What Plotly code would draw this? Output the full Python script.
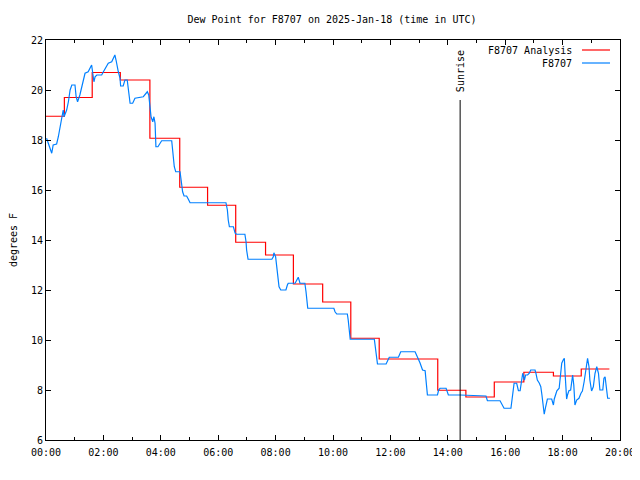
import pandas as pd
import plotly.graph_objects as go

DATE = "2025-01-18"
SUNRISE_H = 14.43
SUNRISE_TOP = 19.6

# Analysis (step) series: hour of change, value
ana_h = [0.00, 0.64, 1.61, 2.59, 3.62, 4.66, 5.63, 6.61, 7.65, 8.62, 9.64,
         10.62, 11.61, 13.65, 14.63, 15.62, 16.65, 17.68, 18.65, 19.63]
ana_v = [18.95, 19.70, 20.70, 20.40, 18.07, 16.11, 15.39, 13.91, 13.40, 12.24, 11.52,
         10.07, 9.24, 7.99, 7.72, 8.32, 8.71, 8.56, 8.84, 8.84]

# Observed series
obs_h = [0.02, 0.20, 0.25, 0.37, 0.43, 0.49, 0.55, 0.60, 0.63, 0.72, 0.78, 0.84, 0.90,
         1.01, 1.05, 1.10, 1.18, 1.24, 1.30, 1.36, 1.47, 1.53, 1.59, 1.67, 1.71, 1.77,
         1.94, 2.00, 2.06, 2.17, 2.29, 2.34, 2.40, 2.44, 2.48, 2.52, 2.58, 2.60, 2.69,
         2.75, 2.83, 2.87, 2.93, 3.02, 3.10, 3.39, 3.48, 3.53, 3.58, 3.62, 3.66, 3.72,
         3.76, 3.80, 3.83, 3.90, 3.97, 4.03, 4.38, 4.40, 4.44, 4.47, 4.52, 4.67, 4.70,
         4.73, 4.76, 4.81, 4.90, 4.96, 5.02, 6.27, 6.32, 6.35, 6.39, 6.53, 6.59, 6.64,
         6.93, 6.97, 6.99, 7.04, 7.87, 7.92, 7.94, 8.00, 8.03, 8.07, 8.12, 8.18, 8.36,
         8.41, 8.44, 8.68, 8.74, 8.79, 8.85, 9.02, 9.06, 9.08, 9.12, 10.03, 10.07, 10.13,
         10.50, 10.53, 10.57, 10.60, 11.44, 11.47, 11.51, 11.55, 11.85, 11.96, 12.28,
         12.36, 12.86, 12.94, 13.03, 13.12, 13.21, 13.24, 13.29, 13.64, 13.68, 13.73,
         13.94, 14.02, 14.43, 15.33, 15.38, 15.82, 15.88, 15.96, 16.20, 16.25, 16.31,
         16.40, 16.46, 16.52, 16.57, 16.61, 16.67, 16.71, 16.78, 16.84, 16.89, 17.04,
         17.07, 17.12, 17.19, 17.24, 17.28, 17.33, 17.36, 17.41, 17.47, 17.62, 17.68,
         17.71, 17.80, 17.88, 17.92, 17.97, 18.02, 18.06, 18.09, 18.14, 18.17, 18.22,
         18.28, 18.31, 18.35, 18.39, 18.43, 18.49, 18.57, 18.64, 18.69, 18.75, 18.79,
         18.84, 18.87, 18.92, 18.95, 19.01, 19.07, 19.13, 19.19, 19.25, 19.30, 19.40,
         19.44, 19.48, 19.54, 19.57, 19.65]
obs_v = [18.07, 17.47, 17.80, 17.84, 18.13, 18.53, 19.00, 19.20, 18.93, 19.20, 19.53, 20.00, 20.20,
         20.20, 19.73, 19.53, 19.80, 20.07, 20.40, 20.67, 20.73, 20.87, 21.00, 20.33, 20.53, 20.60,
         20.60, 20.73, 20.87, 21.07, 21.13, 21.27, 21.40, 21.20, 20.93, 20.73, 20.47, 20.16, 20.16,
         20.40, 20.40, 20.00, 19.47, 19.47, 19.67, 19.73, 19.87, 19.93, 19.80, 19.47, 18.93, 18.73,
         18.93, 18.67, 17.73, 17.73, 17.87, 17.97, 17.97, 17.73, 17.20, 16.93, 16.73, 16.73, 16.47,
         16.13, 15.93, 15.76, 15.76, 15.63, 15.49, 15.49, 15.20, 14.80, 14.53, 14.53, 14.27, 14.23,
         14.23, 13.93, 13.60, 13.23, 13.23, 13.33, 13.49, 13.33, 13.07, 12.53, 12.13, 12.00, 12.00,
         12.20, 12.27, 12.27, 12.40, 12.51, 12.27, 12.27, 11.93, 11.60, 11.27, 11.27, 11.13, 11.04,
         11.04, 10.80, 10.40, 10.03, 10.03, 9.80, 9.40, 9.04, 9.04, 9.31, 9.31,
         9.53, 9.53, 9.33, 9.09, 8.80, 8.77, 8.40, 7.80, 7.80, 8.00, 8.07,
         8.07, 7.80, 7.80, 7.76, 7.57, 7.57, 7.44, 7.27, 7.27, 7.80, 8.27,
         8.27, 7.97, 7.97, 8.33, 8.67, 8.40, 8.60, 8.60, 8.67, 8.80, 8.80,
         8.67, 8.40, 8.27, 8.13, 7.80, 7.33, 7.03, 7.33, 7.64, 7.64, 7.40,
         7.64, 7.97, 8.07, 8.60, 9.07, 9.20, 9.27, 8.60, 7.64, 7.80, 7.97,
         8.00, 8.20, 8.60, 8.20, 7.40, 7.60, 7.67, 7.87, 7.96, 8.33, 8.67,
         9.07, 9.27, 8.93, 8.40, 7.96, 8.13, 8.67, 8.93, 8.67, 8.00, 8.00,
         8.47, 8.53, 7.93, 7.67, 7.67]

y_ticks = [6, 8, 10, 12, 14, 16, 18, 20, 22]

base = pd.Timestamp(DATE)
to_t = lambda hs: [base + pd.Timedelta(hours=h) for h in hs]

FONT = "DejaVu Sans Mono"
RED = "#ff0000"
BLUE = "#0080ff"

fig = go.Figure()
fig.add_trace(go.Scatter(x=to_t(ana_h), y=ana_v, mode="lines", line_shape="hv",
                         line=dict(color=RED, width=1.2), name="F8707 Analysis", showlegend=False))
fig.add_trace(go.Scatter(x=to_t(obs_h), y=obs_v, mode="lines",
                         line=dict(color=BLUE, width=1.2), name="F8707", showlegend=False))

sr = base + pd.Timedelta(hours=SUNRISE_H)
fig.add_shape(type="line", xref="x", yref="y", x0=sr, x1=sr, y0=y_ticks[0], y1=SUNRISE_TOP,
              line=dict(color="black", width=1))
fig.add_annotation(x=sr, y=SUNRISE_TOP, xref="x", yref="y", text="Sunrise", textangle=-90,
                   showarrow=False, yanchor="bottom", xanchor="center", yshift=6,
                   font=dict(family=FONT, size=10, color="black"))

# gnuplot-style legend (text right, sample on right)
legend_items = [("F8707 Analysis", RED), ("F8707", BLUE)]
for i, (name, col) in enumerate(legend_items):
    yp = 1 - (10 + 13 * i) / 400
    fig.add_annotation(x=(574 - 46) / 574, y=yp, xref="paper", yref="paper", text=name,
                       showarrow=False, xanchor="right", yanchor="middle",
                       font=dict(family=FONT, size=10, color="black"))
    fig.add_shape(type="line", xref="paper", yref="paper",
                  x0=(582 - 46) / 574, x1=(610 - 46) / 574, y0=yp, y1=yp,
                  line=dict(color=col, width=1.2))

axis_common = dict(showline=True, linecolor="black", linewidth=1, mirror="allticks",
                   ticks="inside", ticklen=5, tickcolor="black", showgrid=False, zeroline=False,
                   automargin=False,
                   tickfont=dict(family=FONT, size=10, color="black"))

fig.update_xaxes(range=[base, base + pd.Timedelta(hours=20)], tickformat="%H:%M",
                 dtick=2 * 3600000, tick0=base, ticklabelstandoff=3,
                 minor=dict(ticks="inside", ticklen=3, dtick=3600000, tick0=base, tickcolor="black"),
                 **axis_common)
fig.update_yaxes(range=[y_ticks[0], y_ticks[-1]], tickvals=y_ticks,
                 title=dict(text="degrees F", font=dict(family=FONT, size=10, color="black"), standoff=14),
                 **axis_common)

# page body adds an 8px offset; figure sized so the plot area lands at x 46-620, y 40-440
W, H = 632, 472
fig.update_layout(
    width=W, height=H,
    margin=dict(l=38, r=20, t=32, b=40, autoexpand=False),
    paper_bgcolor="white", plot_bgcolor="white",
    title=dict(text="Dew Point for F8707 on 2025-Jan-18 (time in UTC)", x=(332 - 8) / W, xanchor="center",
               y=1 - 11 / H, yanchor="middle", font=dict(family=FONT, size=10, color="black")),
    font=dict(family=FONT, size=10, color="black"),
)

fig.write_html("out.html")
